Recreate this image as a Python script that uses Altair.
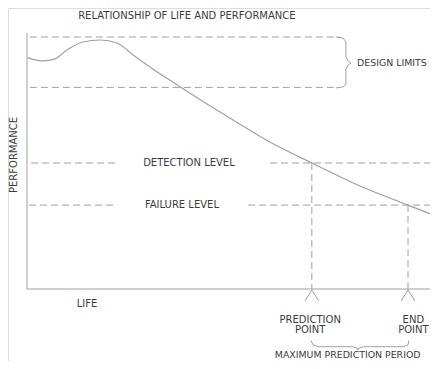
import altair as alt
import pandas as pd

# ---- performance curve (life, performance) ----
curve_life = [0.2, 1.9, 3.9, 6.8, 9.7, 13.6, 17.8, 21.9, 25.8, 29.9, 37.7, 46.2, 50.1, 59.1, 69.3, 81.0, 92.7, 100]
curve_perf = [91.8, 90.9, 90.5, 91.3, 94.8, 98.0, 98.8, 97.6, 92.9, 88.1, 79.8, 71.0, 67.1, 58.3, 50.0, 40.9, 33.3, 28.6]

# ---- levels ----
design_upper = 100
design_lower = 80
detection_level = 50
failure_level = 33.3
prediction_life = 69.3
end_life = 92.7

# dashed horizontal segments
h_start = [0.7, 0.7, 1.0, 59.1, 0.5, 53.8]
h_end = [76.0, 76.0, 21.9, 100, 21.9, 100]
h_perf = [design_upper, design_lower, detection_level, detection_level, failure_level, failure_level]

# dashed vertical segments
v_life = [prediction_life, end_life]
v_top = [detection_level, failure_level]

# braces
brace1_life = [75.2, 76.9, 77.6, 77.6, 78.1, 78.8, 78.1, 77.6, 77.6, 76.9, 75.2]
brace1_perf = [100, 99.6, 98.0, 92.1, 90.5, 89.7, 88.9, 87.3, 81.3, 80.2, 79.8]
brace2_life = [69.1, 69.6, 70.8, 79.1, 80.3, 80.5, 80.7, 82.0, 91.5, 92.7, 92.9]
brace2_perf = [-20.4, -22.2, -22.9, -22.9, -23.5, -24.3, -23.5, -22.9, -22.9, -22.2, -20.4]

# labels
center_text = ["RELATIONSHIP OF LIFE AND PERFORMANCE", "DETECTION LEVEL", "FAILURE LEVEL", "LIFE",
               "PREDICTION", "POINT", "END", "POINT"]
center_life = [38.9, 39.4, 37.7, 14.6, 68.9, 68.9, 94.0, 94.0]
center_perf = [108.3, 50.0, 33.3, -6.0, -12.3, -16.3, -12.3, -16.3]
left_text = ["DESIGN LIMITS", "MAXIMUM PREDICTION PERIOD"]
left_life = [80.3, 60.3]
left_perf = [89.7, -26.3]
ylabel_text = ["PERFORMANCE"]
ylabel_life = [-3.16]
ylabel_perf = [53.2]

# ---- build tables ----
rows_dash = []
k = 0
for a, b, p in zip(h_start, h_end, h_perf):
    rows_dash += [dict(life=a, perf=p, seg=k, o=0), dict(life=b, perf=p, seg=k, o=1)]
    k += 1
for l, t in zip(v_life, v_top):
    rows_dash += [dict(life=l, perf=t, seg=k, o=0), dict(life=l, perf=0, seg=k, o=1)]
    k += 1
dash_df = pd.DataFrame(rows_dash)

rows_solid = []
for i, (l, p) in enumerate(zip(brace1_life, brace1_perf)):
    rows_solid.append(dict(life=l, perf=p, seg=0, o=i))
for i, (l, p) in enumerate(zip(brace2_life, brace2_perf)):
    rows_solid.append(dict(life=l, perf=p, seg=1, o=i))
# axes
for i, (l, p) in enumerate([(0, 101.6), (0, 0), (100, 0)]):
    rows_solid.append(dict(life=l, perf=p, seg=2, o=i))
# arrow marks
s = 3
for l in v_life:
    for i, (dl, p) in enumerate([(-1.7, -4.8), (0, -0.4), (1.7, -4.8)]):
        rows_solid.append(dict(life=l + dl, perf=p, seg=s, o=i))
    s += 1
solid_df = pd.DataFrame(rows_solid)

curve_df = pd.DataFrame(dict(life=curve_life, perf=curve_perf))
ctext_df = pd.DataFrame(dict(life=center_life, perf=center_perf, t=center_text))
ltext_df = pd.DataFrame(dict(life=left_life, perf=left_perf, t=left_text))
ytext_df = pd.DataFrame(dict(life=ylabel_life, perf=ylabel_perf, t=ylabel_text))

X = alt.X("life:Q", scale=alt.Scale(domain=[-4.623, 98.05], nice=False, zero=False), axis=None)
Y = alt.Y("perf:Q", scale=alt.Scale(domain=[-28.57, 111.508], nice=False, zero=False), axis=None)

line_col = "#a0a0a0"
text_col = "#3c3c3c"
font = "DejaVu Sans"
fs = 10

dash = alt.Chart(dash_df).mark_line(color=line_col, strokeWidth=1, strokeDash=[7, 4], clip=True).encode(
    x=X, y=Y, detail="seg:N", order="o:Q")
solid = alt.Chart(solid_df).mark_line(color=line_col, strokeWidth=1, clip=True).encode(
    x=X, y=Y, detail="seg:N", order="o:Q")
curve = alt.Chart(curve_df).mark_line(color=line_col, strokeWidth=1.2, interpolate="monotone",
                                      clip=True).encode(x=X, y=Y)
ctext = alt.Chart(ctext_df).mark_text(font=font, fontSize=fs, color=text_col, align="center",
                                      baseline="middle").encode(x=X, y=Y, text="t:N")
ltext = alt.Chart(ltext_df).mark_text(font=font, fontSize=9.4, color=text_col, align="left",
                                      baseline="middle").encode(x=X, y=Y, text="t:N")
ytext = alt.Chart(ytext_df).mark_text(font=font, fontSize=fs, color=text_col, align="center",
                                      baseline="middle", angle=270).encode(x=X, y=Y, text="t:N")

chart = alt.layer(dash, solid, curve, ctext, ltext, ytext).properties(
    width=422, height=353, padding=0, autosize=alt.AutoSizeParams(type="none")
).configure_view(strokeWidth=0, stroke="transparent").configure(background="transparent")

chart.save("out.html", embed_options={"renderer": "svg", "actions": False})
